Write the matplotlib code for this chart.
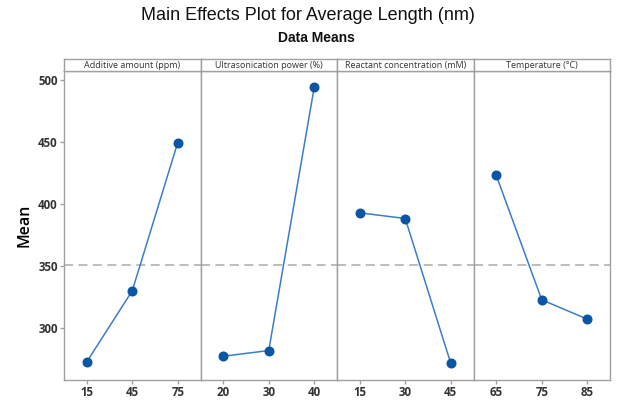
import matplotlib
matplotlib.use("Agg")
import matplotlib.pyplot as plt

factors = ["Additive amount (ppm)", "Ultrasonication power (%)",
           "Reactant concentration (mM)", "Temperature (°C)"]
levels = [["15", "45", "75"], ["20", "30", "40"], ["15", "30", "45"], ["65", "75", "85"]]
means = [[272.2, 329.7, 449.5],
         [276.8, 281.4, 494.3],
         [392.7, 388.1, 271.1],
         [423.0, 322.4, 306.8]]
grand_mean = 350.6
yticks = [300, 350, 400, 450, 500]

W, H = 619, 401
fig = plt.figure(figsize=(W / 100, H / 100), dpi=100)

left_px, right_px = 64, 610
top_px, bottom_px = 71, 380
strip_top_px = 59
n = len(factors)
pw = (right_px - left_px) / n
edge = "#a0a0a0"
mark_col = "#0b55a5"
line_col = "#3b7dc9"

tick_font = dict(family="Open Sans", weight="bold", size=8.3)

axes = []
for i in range(n):
    x0 = (left_px + i * pw) / W
    ax = fig.add_axes([x0, 1 - bottom_px / H, pw / W, (bottom_px - top_px) / H])
    xs = list(range(len(levels[i])))
    ax.axhline(grand_mean, color="#b8b8b8", lw=1.3, ls=(0, (5, 3)), zorder=1)
    ax.plot(xs, means[i], color=line_col, lw=1.1, zorder=2)
    ax.plot(xs, means[i], "o", color=mark_col, ms=6.2, zorder=3)
    ax.set_xlim(-0.5, 2.5)
    ax.set_ylim(257.6, 507.3)
    ax.set_xticks(xs)
    ax.set_xticklabels(levels[i], **tick_font, color="#333333")
    ax.set_yticks(yticks)
    if i == 0:
        ax.set_yticklabels([str(v) for v in yticks], **tick_font, color="#333333")
        ax.set_ylabel("Mean", family="Open Sans", weight="semibold", size=11.5, labelpad=4)
    else:
        ax.tick_params(axis="y", left=False, labelleft=False)
    for s in ax.spines.values():
        s.set_color(edge)
        s.set_linewidth(1.0)
    ax.tick_params(axis="both", color=edge, length=3, width=1, pad=1.5)
    # strip
    sax = fig.add_axes([x0, 1 - top_px / H, pw / W, (top_px - strip_top_px) / H])
    sax.set_xticks([]); sax.set_yticks([])
    for s in sax.spines.values():
        s.set_color(edge)
        s.set_linewidth(1.0)
    sax.text(0.5, 0.45, factors[i], ha="center", va="center", family="Open Sans",
             size=6.5, color="#333333", transform=sax.transAxes)
    axes.append(ax)

fig.text(308 / W, 1 - 16 / H, "Main Effects Plot for Average Length (nm)", ha="center", va="center",
         family="Liberation Sans", size=13, color="#111111")
fig.text(316 / W, 1 - 38 / H, "Data Means", ha="center", va="center",
         family="Liberation Sans", weight="bold", size=10, color="#111111")

fig.savefig("out.png", dpi=100)
